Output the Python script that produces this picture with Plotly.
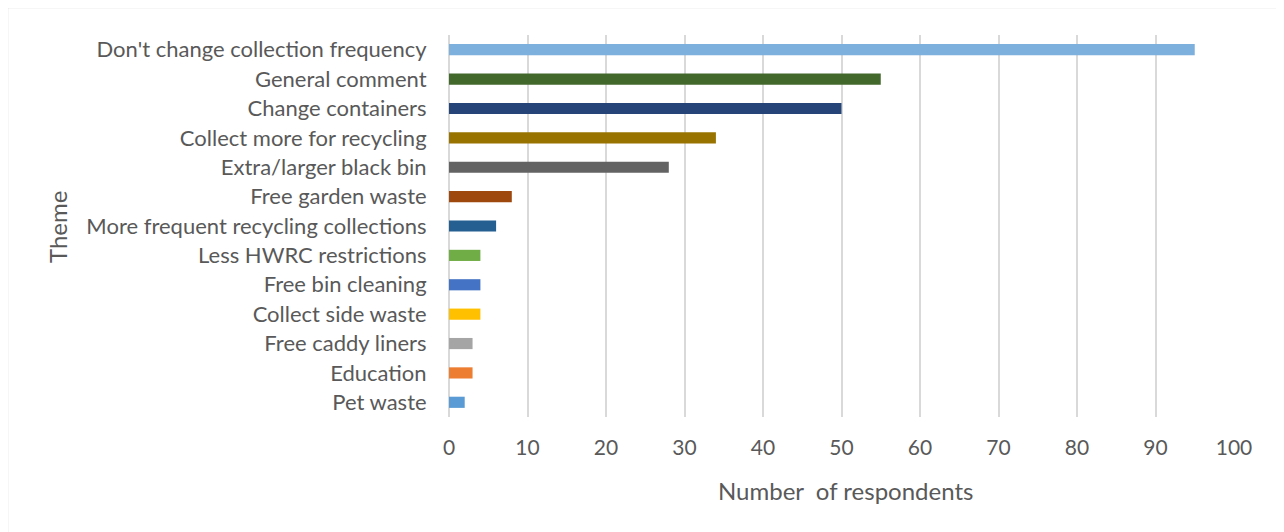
import plotly.graph_objects as go

themes = [
    "Don't change collection frequency",
    "General comment",
    "Change containers",
    "Collect more for recycling",
    "Extra/larger black bin",
    "Free garden waste",
    "More frequent recycling collections",
    "Less HWRC restrictions",
    "Free bin cleaning",
    "Collect side waste",
    "Free caddy liners",
    "Education",
    "Pet waste",
]
respondents = [95, 55, 50, 34, 28, 8, 6, 4, 4, 4, 3, 3, 2]
bar_colors = [
    "#7eb0de", "#43682b", "#264478", "#997300", "#636363", "#9e480e",
    "#255e91", "#70ad47", "#4472c4", "#ffc000", "#a5a5a5", "#ed7d31", "#5b9bd5",
]
x_ticks = [0, 10, 20, 30, 40, 50, 60, 70, 80, 90, 100]

OFF = 8  # browser body margin
W, H = 1284 - OFF, 532 - OFF
L, R, T, B = 449 - OFF, 1234 - OFF, 35 - OFF, 417 - OFF

FONT = "Lato, Carlito, Calibri, sans-serif"
TXT = "#595959"

fig = go.Figure(go.Bar(
    x=respondents, y=themes, orientation="h",
    marker=dict(color=bar_colors, line=dict(width=0)),
    width=0.38,
))

def px_x(p):
    return (p - OFF - L) / (R - L)

def px_y(p):
    return (B - (p - OFF)) / (B - T)

fig.update_layout(
    width=W, height=H,
    margin=dict(l=L, r=W - R, t=T, b=H - B, pad=0),
    paper_bgcolor="white", plot_bgcolor="white",
    showlegend=False,
    font=dict(family=FONT, color=TXT, size=22),
    xaxis=dict(
        range=[0, 100], tickvals=x_ticks, showgrid=True,
        gridcolor="#d9d9d9", gridwidth=1.8, zeroline=True,
        zerolinecolor="#d9d9d9", zerolinewidth=1.8,
        ticks="outside", ticklen=12, tickcolor="rgba(0,0,0,0)",
        tickfont=dict(size=21, color=TXT, family=FONT),
        showline=False, fixedrange=True,
    ),
    yaxis=dict(
        autorange="reversed", type="category",
        ticks="outside", ticklen=17, tickcolor="rgba(0,0,0,0)",
        tickfont=dict(size=22, color=TXT, family=FONT),
        showgrid=False, showline=False, fixedrange=True,
    ),
    annotations=[
        dict(text="Number  of respondents", xref="paper", yref="paper",
             x=px_x(845), y=px_y(490), showarrow=False,
             font=dict(size=24, color=TXT, family=FONT),
             xanchor="center", yanchor="middle"),
        dict(text="Theme", xref="paper", yref="paper",
             x=px_x(57), y=px_y(227), showarrow=False, textangle=-90,
             font=dict(size=24, color=TXT, family=FONT),
             xanchor="center", yanchor="middle"),
    ],
    shapes=[
        dict(type="rect", xref="paper", yref="paper",
             x0=px_x(7.5), x1=px_x(1281.5), y0=px_y(545), y1=px_y(7.5),
             line=dict(color="#d9d9d9", width=1.5), fillcolor="rgba(0,0,0,0)",
             layer="below"),
    ],
)

fig.write_html("out.html")
